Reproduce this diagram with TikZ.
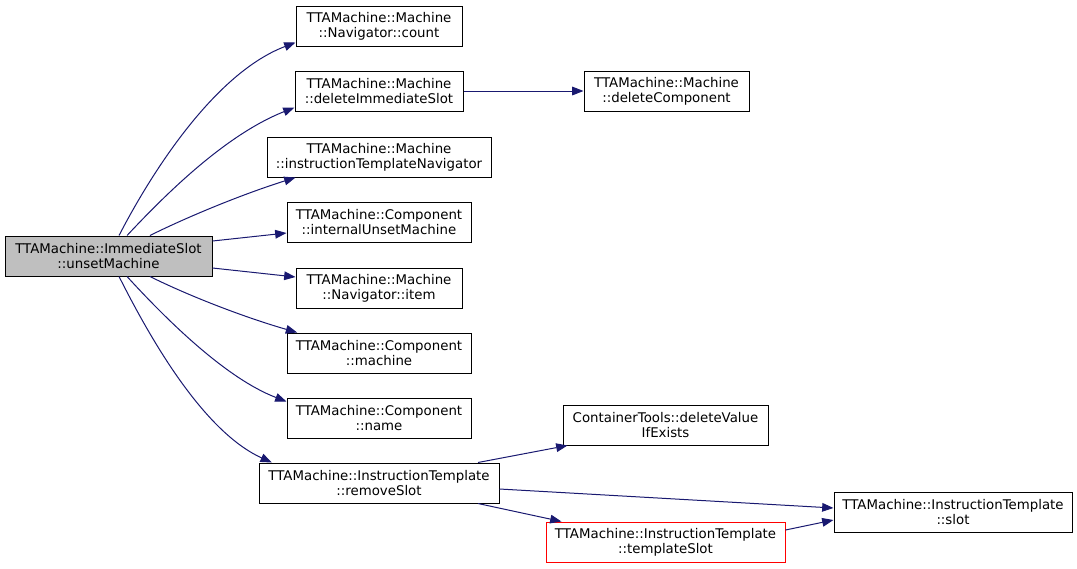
\documentclass[tikz,border=0pt]{standalone}
\usepackage{fontspec}
\setmainfont{DejaVu Sans}
\usetikzlibrary{arrows.meta}
\definecolor{edgeblue}{HTML}{191970}
\definecolor{rootgray}{HTML}{BFBFBF}

\begin{document}
\begin{tikzpicture}[x=0.75pt,y=-0.75pt,
	fn/.style={draw=black,line width=0.75pt,fill=white,align=center,inner sep=0pt,
		minimum height=30pt,font=\fontsize{10}{11.25}\selectfont},
	call/.style={draw=edgeblue,line width=0.75pt,-{Triangle[length=8.5pt,width=6.5pt]}}]
	\useasboundingbox (0,0) rectangle (1077,568);
	\node[fn,fill=rootgray,minimum width=155.25pt] (root) at (108.5,256) {TTAMachine::ImmediateSlot\\::unsetMachine};
	\node[fn,minimum width=124.5pt] (count) at (379,26) {TTAMachine::Machine\\::Navigator::count};
	\node[fn,minimum width=126pt] (delImm) at (379,91) {TTAMachine::Machine\\::deleteImmediateSlot};
	\node[fn,minimum width=168pt] (itNav) at (379,157) {TTAMachine::Machine\\::instructionTemplateNavigator};
	\node[fn,minimum width=138pt] (intUnset) at (379,222) {TTAMachine::Component\\::internalUnsetMachine};
	\node[fn,minimum width=124.5pt] (item) at (379,288) {TTAMachine::Machine\\::Navigator::item};
	\node[fn,minimum width=138pt] (machine) at (379,353) {TTAMachine::Component\\::machine};
	\node[fn,minimum width=138pt] (name) at (379,418) {TTAMachine::Component\\::name};
	\node[fn,minimum width=180pt] (remSlot) at (379,483) {TTAMachine::InstructionTemplate\\::removeSlot};
	\node[fn,minimum width=123.75pt] (delComp) at (666.5,91) {TTAMachine::Machine\\::deleteComponent};
	\node[fn,minimum width=153.75pt] (delValue) at (665.5,425) {ContainerTools::deleteValue\\IfExists};
	\node[fn,minimum width=178.5pt] (slot) at (953,512) {TTAMachine::InstructionTemplate\\::slot};
	\node[fn,draw=red,minimum width=179.25pt] (tSlot) at (665.5,542) {TTAMachine::InstructionTemplate\\::templateSlot};
	% calls from the root
	\draw[call] ([xshift=7.9pt]root.north) .. controls (145,185) and (210,75) .. ([yshift=3pt]count.south west);
	\draw[call] ([xshift=13.9pt]root.north) .. controls (165,195) and (225,135) .. ([yshift=3pt]delImm.south west);
	\draw[call] ([xshift=31.1pt]root.north) .. controls (185,218) and (240,195) .. ([xshift=21.75pt]itNav.south west);
	\draw[call] ([yshift=11.25pt]root.east) -- ([yshift=-8.25pt]intUnset.west);
	\draw[call] ([yshift=-9pt]root.east) -- ([yshift=8.25pt]item.west);
	\draw[call] ([xshift=31.1pt]root.south) .. controls (185,294) and (240,316) .. ([xshift=8pt]machine.north west);
	\draw[call] ([xshift=13.9pt]root.south) .. controls (165,318) and (225,378) .. ([yshift=-3pt]name.north west);
	\draw[call] ([xshift=7.9pt]root.south) .. controls (145,328) and (200,430) .. ([xshift=10pt]remSlot.north west);
	% further calls
	\draw[call] (delImm) -- (delComp);
	\draw[call] ([xshift=74.25pt]remSlot.north) -- ([xshift=3.75pt]delValue.south west);
	\draw[call] ([yshift=-4.5pt]remSlot.east) -- ([yshift=3pt]slot.west);
	\draw[call] ([xshift=74.25pt]remSlot.south) -- ([xshift=12pt]tSlot.north west);
	\draw[call] ([yshift=9pt]tSlot.east) -- ([yshift=-6pt]slot.west);
\end{tikzpicture}
\end{document}
